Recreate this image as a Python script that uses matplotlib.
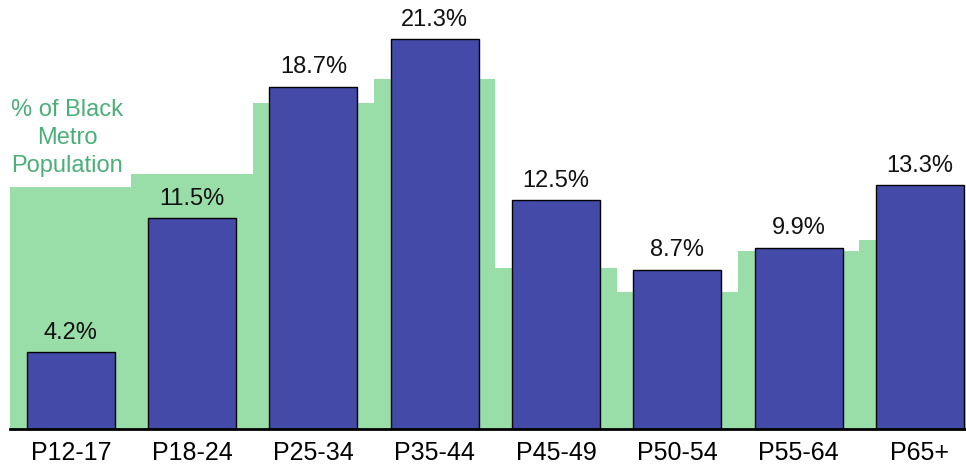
import matplotlib
matplotlib.use("Agg")
import matplotlib.pyplot as plt
import numpy as np

plt.rcParams['font.family'] = ['Liberation Sans', 'DejaVu Sans']

categories = ['P12-17', 'P18-24', 'P25-34', 'P35-44', 'P45-49', 'P50-54', 'P55-64', 'P65+']
share_values = [4.2, 11.5, 18.7, 21.3, 12.5, 8.7, 9.9, 13.3]
metro_pop = [13.2, 13.9, 17.8, 19.1, 8.8, 7.5, 9.7, 10.3]

x = np.arange(len(categories))

fig = plt.figure(figsize=(9.66, 4.66), dpi=100)
ax = fig.add_axes([0.0105, 0.0794, 0.9895, 0.9206])

# green background population share
ax.bar(x, metro_pop, width=1.0, color='#99dea8', linewidth=0, zorder=1)
# blue bars
bars = ax.bar(x, share_values, width=0.727, color='#444aa8', edgecolor='black',
              linewidth=1.0, zorder=2)
ax.bar_label(bars, labels=[f'{v}%' for v in share_values], padding=6,
             fontsize=17, color='#111111')

ax.text(-0.03, 13.75, '% of Black\nMetro\nPopulation', ha='center', va='bottom',
        multialignment='center', fontsize=17, color='#4cae78', linespacing=1.35)

ax.set_xlim(-0.5, 7.38)
ax.set_ylim(0, 23.43)
ax.set_xticks(x)
ax.set_xticklabels(categories, fontsize=18)
ax.tick_params(axis='x', length=0, pad=9)
ax.set_yticks([])
for s in ['top', 'right', 'left']:
    ax.spines[s].set_visible(False)
ax.spines['bottom'].set_linewidth(2)
ax.spines['bottom'].set_zorder(3)

fig.savefig('out.png', dpi=100)
